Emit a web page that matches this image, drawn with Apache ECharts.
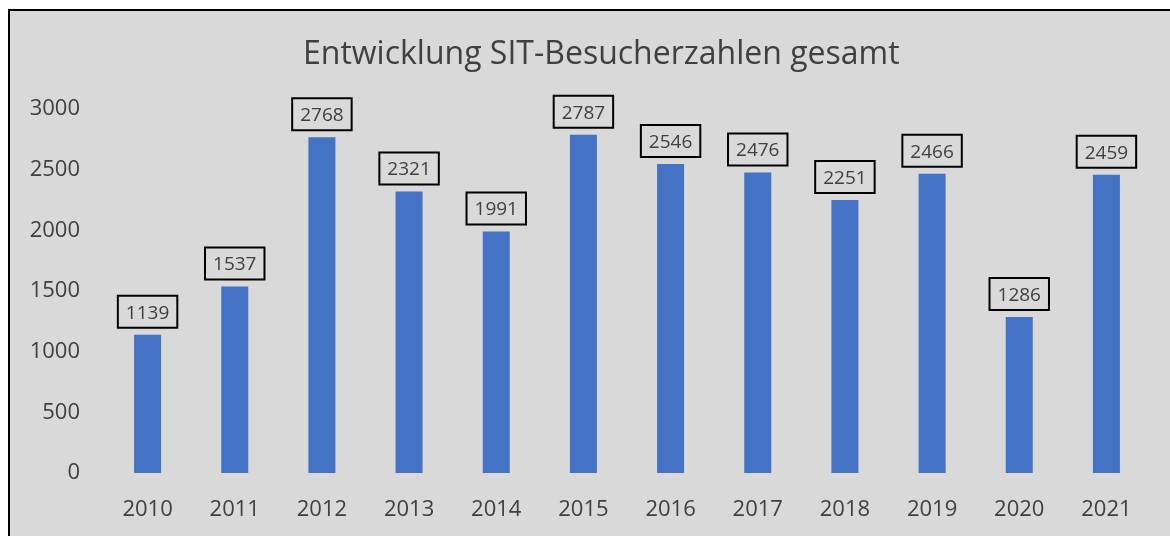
<!DOCTYPE html>
<html>
<head>
<meta charset="utf-8">
<title>SIT-Besucherzahlen</title>
<script src="https://cdn.jsdelivr.net/npm/echarts@6/dist/echarts.min.js"></script>
<style>
  html, body { margin: 0; padding: 0; background: #fff; overflow: hidden; }
  #frame { position: absolute; left: 8px; top: 9px; width: 1300px; height: 700px;
           background: #d9d9d9; border-top: 2px solid #000; border-left: 2px solid #000; }
  #main { position: absolute; left: 0; top: 0; width: 1170px; height: 536px; }
</style>
</head>
<body>
<div id="frame"></div>
<div id="main"></div>
<script>
  // Jahre und Besucherzahlen
  var years = ['2010', '2011', '2012', '2013', '2014', '2015', '2016', '2017', '2018', '2019', '2020', '2021'];
  var visitors = [1139, 1537, 2768, 2321, 1991, 2787, 2546, 2476, 2251, 2466, 1286, 2459];

  var chart = echarts.init(document.getElementById('main'));
  var font = '"Open Sans", "Noto Sans", sans-serif';

  var option = {
    backgroundColor: 'transparent',
    animation: false,
    title: {
      text: 'Entwicklung SIT-Besucherzahlen gesamt',
      left: 298,
      top: 34,
      textStyle: { fontFamily: font, fontSize: 32, fontWeight: 'normal', color: '#404040' }
    },
    grid: { left: 104, right: 20, top: 109, bottom: 63 },
    xAxis: {
      type: 'category',
      data: years,
      axisLine: { show: false },
      axisTick: { show: false },
      axisLabel: { fontFamily: font, fontSize: 22, color: '#404040', margin: 26 }
    },
    yAxis: {
      type: 'value',
      min: 0,
      max: 3000,
      interval: 500,
      splitLine: { show: false },
      axisLine: { show: false },
      axisTick: { show: false },
      axisLabel: { fontFamily: font, fontSize: 22, color: '#404040', margin: 24,
                   formatter: function (v) { return String(v); } }
    },
    series: [{
      type: 'bar',
      data: visitors,
      barWidth: 27,
      itemStyle: { color: '#4472c4' },
      label: {
        show: true,
        position: 'top',
        distance: 7,
        fontFamily: font,
        fontSize: 19,
        color: '#404040',
        borderColor: '#000',
        borderWidth: 2,
        padding: [8, 8, 5, 8]
      }
    }]
  };
  chart.setOption(option);
</script>
</body>
</html>
